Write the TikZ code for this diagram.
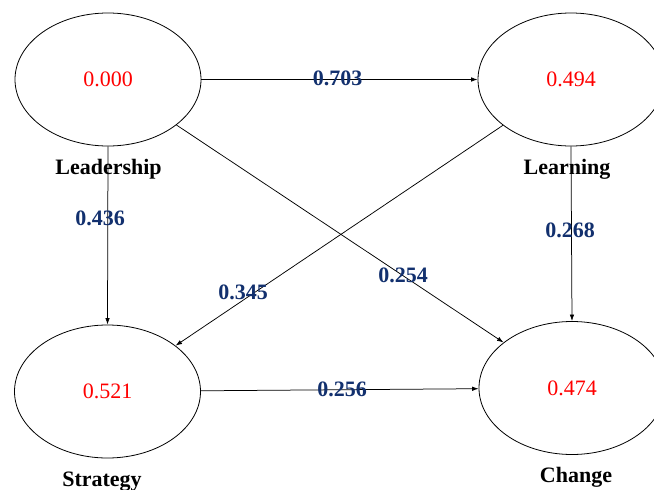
\documentclass[tikz,border=0pt]{standalone}
\usepackage{fontspec}
\setmainfont{Liberation Serif}
\usetikzlibrary{shapes.geometric,arrows.meta}
\definecolor{pathblue}{RGB}{18,48,110}
\tikzset{
  construct/.style={ellipse, draw=black, line width=0.8pt, minimum width=186pt,
    minimum height=133pt, inner sep=0pt, text=red,
    font=\fontsize{22}{26}\selectfont},
  path/.style={draw=black, line width=0.75pt, -{Latex[length=6.5pt,width=4.5pt]}},
  coef/.style={inner sep=0pt, text=pathblue, font=\fontsize{22}{26}\selectfont\bfseries},
  cname/.style={inner sep=0pt, anchor=base, font=\fontsize{22}{26}\selectfont\bfseries}
}
\begin{document}
\begin{tikzpicture}[x=1pt,y=-1pt]
\useasboundingbox (0,0) rectangle (654,490);

% latent constructs with their R-squared values
\node[construct] (lead)  at (108,79.5)   {0.000};
\node[construct] (learn) at (571,79.5)   {0.494};
\node[construct] (strat) at (107.5,391.5) {0.521};
\node[construct] (chg)   at (572,388)    {0.474};

% construct names
\node[cname] (leadname)  at (108.5,174) {Leadership};
\node[cname] (learnname) at (567,174)   {Learning};
\node[cname] (stratname) at (102,486.5) {Strategy};
\node[cname] (chgname)   at (576,482)   {Change};

% structural paths
\draw[path] (lead.east)  -- (learn.west);
\draw[path] (lead.south) -- (strat.north);
\draw[path] (learn.south) -- (chg.north);
\draw[path] (learn) -- (strat);
\draw[path] (lead) -- (chg);
\draw[path] (strat) -- (chg);

% path coefficients
\node[coef] (c1) at (337.5,78)  {0.703};
\node[coef] (c2) at (100,218)   {0.436};
\node[coef] (c3) at (570,230)   {0.268};
\node[coef] (c4) at (243,292)   {0.345};
\node[coef] (c5) at (403,275)   {0.254};
\node[coef] (c6) at (342,389)   {0.256};
\end{tikzpicture}
\end{document}
